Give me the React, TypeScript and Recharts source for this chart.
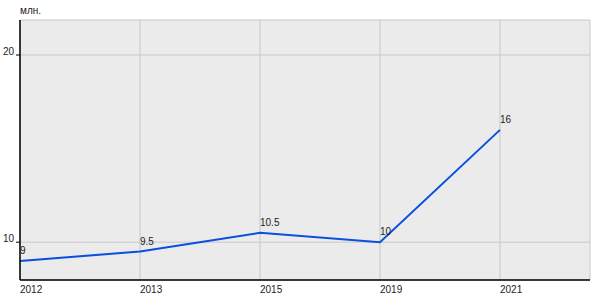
import React from 'react';
import { LineChart, Line, XAxis, YAxis, CartesianGrid, LabelList } from 'recharts';

const years = ['2012', '2013', '2015', '2019', '2021'];
const values = [9, 9.5, 10.5, 10, 16];
const yTicks = [10, 20];
const unitLabel = 'млн.';

const data = years.map((y, i) => ({ idx: i, year: y, value: values[i] }));

const FONT = '"Liberation Sans", Arial, sans-serif';

const XTick = (props: any) => {
  const { x, y, payload } = props;
  return (
    <text x={x} y={y} dy={5} textAnchor="start" fontSize={10} fontFamily={FONT} fill="#222">
      {years[payload.value]}
    </text>
  );
};

const YTick = (props: any) => {
  const { x, y, payload } = props;
  return (
    <text x={x} y={y} dy={0} textAnchor="end" fontSize={10} fontFamily={FONT} fill="#222">
      {payload.value}
    </text>
  );
};

const PointLabel = (props: any) => {
  const { x, y, value } = props;
  return (
    <text x={x} y={y} dy={-7} textAnchor="start" fontSize={10} fontFamily={FONT} fill="#222">
      {value}
    </text>
  );
};

export default function App() {
  return (
    <div style={{ position: 'absolute', left: 0, top: 0, width: 600, height: 300, background: '#fff' }}>
      <div style={{ position: 'absolute', left: 20, top: 5, fontSize: 10, fontFamily: FONT, color: '#222', lineHeight: '12px' }}>
        {unitLabel}
      </div>
      <LineChart width={600} height={300} data={data} margin={{ top: 20, right: 10, left: 0, bottom: 0 }}>
        <CartesianGrid fill="#ebebeb" stroke="#c8c8c8" strokeWidth={1} />
        <XAxis
          type="number"
          dataKey="idx"
          domain={[0, 4.75]}
          ticks={[0, 1, 2, 3, 4]}
          height={20}
          tickLine={false}
          axisLine={{ stroke: '#000', strokeWidth: 1.5 }}
          tick={<XTick />}
          interval={0}
          allowDataOverflow
        />
        <YAxis
          type="number"
          domain={[7.98, 21.87]}
          ticks={yTicks}
          width={20}
          tickSize={4}
          tickLine={{ stroke: '#000' }}
          axisLine={{ stroke: '#000', strokeWidth: 1.5 }}
          tick={<YTick />}
          interval={0}
          allowDataOverflow
        />
        <Line
          type="linear"
          dataKey="value"
          stroke="#0a4fe0"
          strokeWidth={2}
          dot={false}
          isAnimationActive={false}
        >
          <LabelList dataKey="value" content={<PointLabel />} />
        </Line>
      </LineChart>
    </div>
  );
}
